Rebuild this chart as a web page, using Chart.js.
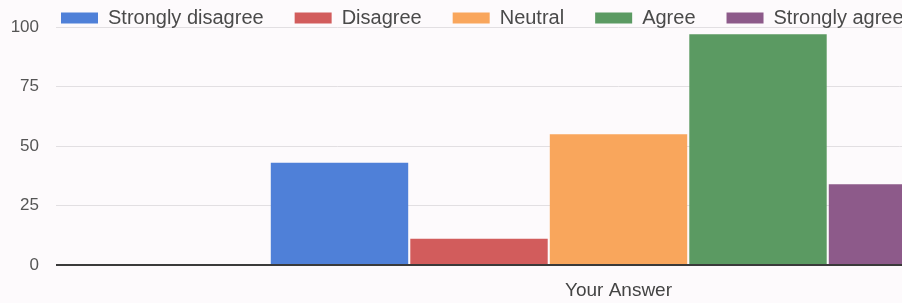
<!DOCTYPE html>
<html>
<head>
<meta charset="utf-8">
<script src="https://cdn.jsdelivr.net/npm/chart.js@4"></script>
<style>
  html, body { margin: 0; padding: 0; background: #fdfafc; overflow: hidden; }
  #wrap { position: relative; width: 1181px; height: 303px; }
</style>
</head>
<body>
<div id="wrap"><canvas id="chart"></canvas></div>
<script>
'use strict';

// Chart values
const categories = ['Your Answer'];
const seriesNames = ['Strongly disagree', 'Disagree', 'Neutral', 'Agree', 'Strongly agree'];
const seriesValues = [43, 11, 55, 97, 34];
const seriesColors = ['#4f80d8', '#d25c5c', '#f9a65c', '#5b9a62', '#8d5a8a'];
const yTicks = [0, 25, 50, 75, 100];

// Legend sits on the top gridline row instead of taking its own space.
const overlayLegend = {
  id: 'overlayLegend',
  beforeLayout(chart) {
    const legend = chart.legend;
    if (!legend || legend.fit.patched) return;
    const fit = legend.fit;
    legend.fit = function () {
      fit.call(this);
      this.fullHeight = this.height;
      this.height = 0;
    };
    legend.fit.patched = true;
  },
  afterLayout(chart) {
    const legend = chart.legend;
    const w = legend.width;
    legend.top = -23;
    legend.height = legend.fullHeight;
    legend.bottom = legend.top + legend.fullHeight;
    legend.left = 30;
    legend.right = legend.left + w;
  }
};

const datasets = seriesNames.map((name, i) => ({
  label: name,
  data: [seriesValues[i]],
  backgroundColor: seriesColors[i],
  borderWidth: 0,
  barPercentage: 0.985,
  categoryPercentage: 0.62
}));

new Chart(document.getElementById('chart'), {
  type: 'bar',
  data: { labels: categories, datasets: datasets },
  plugins: [overlayLegend],
  options: {
    responsive: true,
    maintainAspectRatio: false,
    animation: false,
    layout: { padding: { top: 6, left: 10, right: 0, bottom: 2 } },
    plugins: {
      tooltip: { enabled: false },
      legend: {
        position: 'top',
        align: 'start',
        labels: {
          boxWidth: 37,
          boxHeight: 11,
          padding: 31,
          color: '#4a4a4a',
          font: { family: 'Liberation Sans, Arial, sans-serif', size: 20 }
        }
      }
    },
    scales: {
      x: {
        grid: { display: false, drawTicks: false },
        border: { display: false },
        afterFit(scale) { scale.height = 36; },
        ticks: {
          padding: 14,
          color: '#444',
          font: { family: 'Liberation Sans, Arial, sans-serif', size: 19 }
        }
      },
      y: {
        min: 0,
        max: 100,
        afterBuildTicks(scale) {
          scale.ticks = yTicks.map(v => ({ value: v }));
        },
        afterFit(scale) { scale.width = 46; },
        border: { display: false },
        grid: {
          drawTicks: false,
          color: ctx => ctx.tick && ctx.tick.value === 0 ? '#3a3a3a' : '#e2dfe2',
          lineWidth: ctx => ctx.tick && ctx.tick.value === 0 ? 2 : 1
        },
        ticks: {
          padding: 17,
          color: '#555',
          font: { family: 'Liberation Sans, Arial, sans-serif', size: 17 }
        }
      }
    }
  }
});
</script>
</body>
</html>
